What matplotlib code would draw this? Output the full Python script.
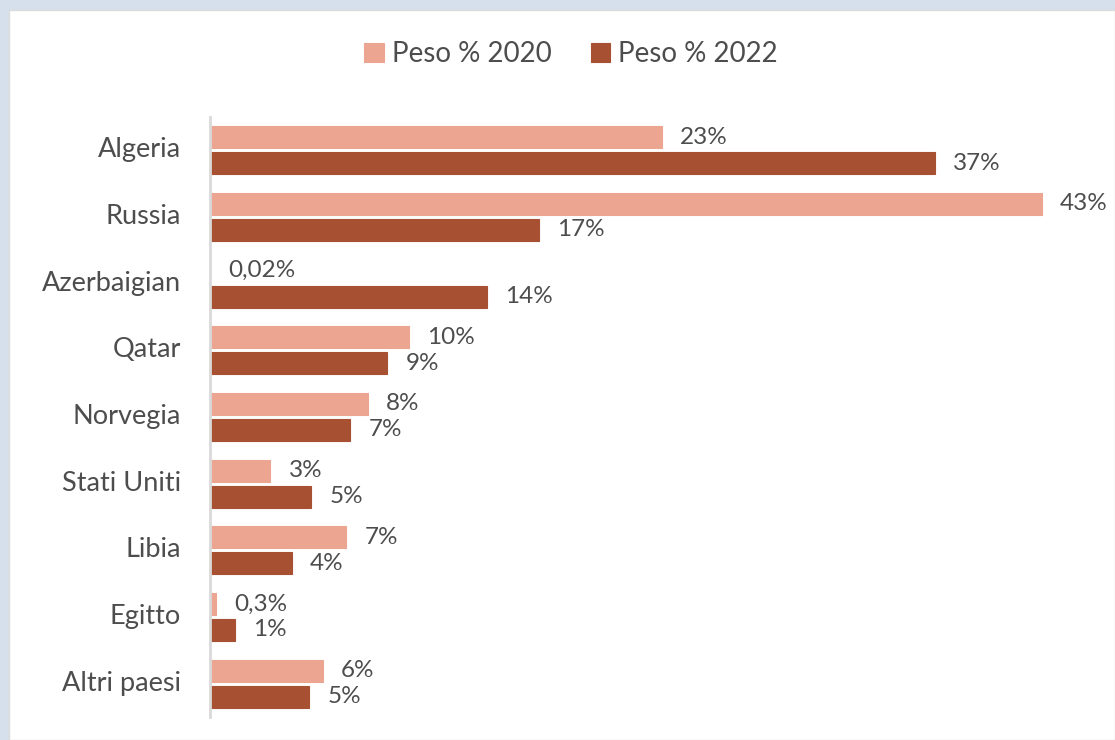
import numpy as np
import matplotlib
matplotlib.use("Agg")
import matplotlib.pyplot as plt
from matplotlib.patches import Rectangle
from matplotlib.transforms import ScaledTranslation

# Data (import share by origin, %)
countries = ["Algeria", "Russia", "Azerbaigian", "Qatar", "Norvegia",
             "Stati Uniti", "Libia", "Egitto", "Altri paesi"]
peso_2020 = [23.2, 42.7, 0.02, 10.2, 8.1, 3.1, 7.0, 0.3, 5.8]
peso_2022 = [37.2, 16.9, 14.2, 9.1, 7.2, 5.2, 4.2, 1.3, 5.1]
labels_2020 = ["23%", "43%", "0,02%", "10%", "8%", "3%", "7%", "0,3%", "6%"]
labels_2022 = ["37%", "17%", "14%", "9%", "7%", "5%", "4%", "1%", "5%"]
series_names = ["Peso % 2020", "Peso % 2022"]

color_2020 = "#eca590"
color_2022 = "#a85032"
text_color = "#4d4d4d"

plt.rcParams["font.family"] = ["Lato", "DejaVu Sans"]

W, H = 1115, 740
fig = plt.figure(figsize=(W / 100, H / 100), dpi=100)
fig.patch.set_facecolor("#d5e0ec")
# white panel inside the light blue frame
fig.patches.append(Rectangle((9 / W, 0), 1 - 9 / W, 1 - 10 / H,
                             transform=fig.transFigure, facecolor="white",
                             edgecolor="#dcdcdc", linewidth=1, zorder=-5))

ax = fig.add_axes([210 / W, 1 - 717 / H, 860 / W, 600 / H])
ax.set_facecolor("none")

y = np.arange(len(countries))
h = 0.33
off = 0.195
b1 = ax.barh(y - off, peso_2020, height=h, color=color_2020,
             edgecolor=color_2020, linewidth=0.8, label=series_names[0])
b2 = ax.barh(y + off, peso_2022, height=h, color=color_2022,
             edgecolor=color_2022, linewidth=0.8, label=series_names[1])

for bars, labs in ((b1, labels_2020), (b2, labels_2022)):
    for bar, lab in zip(bars, labs):
        ax.annotate(lab, (bar.get_width(), bar.get_y() + bar.get_height() / 2),
                    xytext=(13, 0), textcoords="offset points",
                    ha="left", va="center", fontsize=17.5, color=text_color)

ax.set_xlim(0, 860 / 19.48)
ax.set_ylim(len(countries) - 0.5, -0.5)
ax.set_yticks(y)
ax.set_yticklabels(countries, fontsize=19.5, color=text_color)
ax.tick_params(axis="y", length=0, pad=21)
# category labels sit a few pixels above the group centre in the original
shift = ScaledTranslation(0, 3 / 100, fig.dpi_scale_trans)
for lab in ax.get_yticklabels():
    lab.set_transform(lab.get_transform() + shift)
ax.set_xticks([])
for side in ("top", "right", "bottom"):
    ax.spines[side].set_visible(False)
ax.spines["left"].set_color("#d9d9d9")
ax.spines["left"].set_linewidth(2)

fig.legend(handles=[b1, b2], labels=series_names, loc="center",
           bbox_to_anchor=(571 / W, 1 - 54 / H), ncol=2, frameon=False,
           fontsize=20, labelcolor=text_color, handlelength=0.7,
           handleheight=0.7, handletextpad=0.3, columnspacing=1.4)

fig.savefig("out.png", dpi=100, facecolor=fig.get_facecolor())
